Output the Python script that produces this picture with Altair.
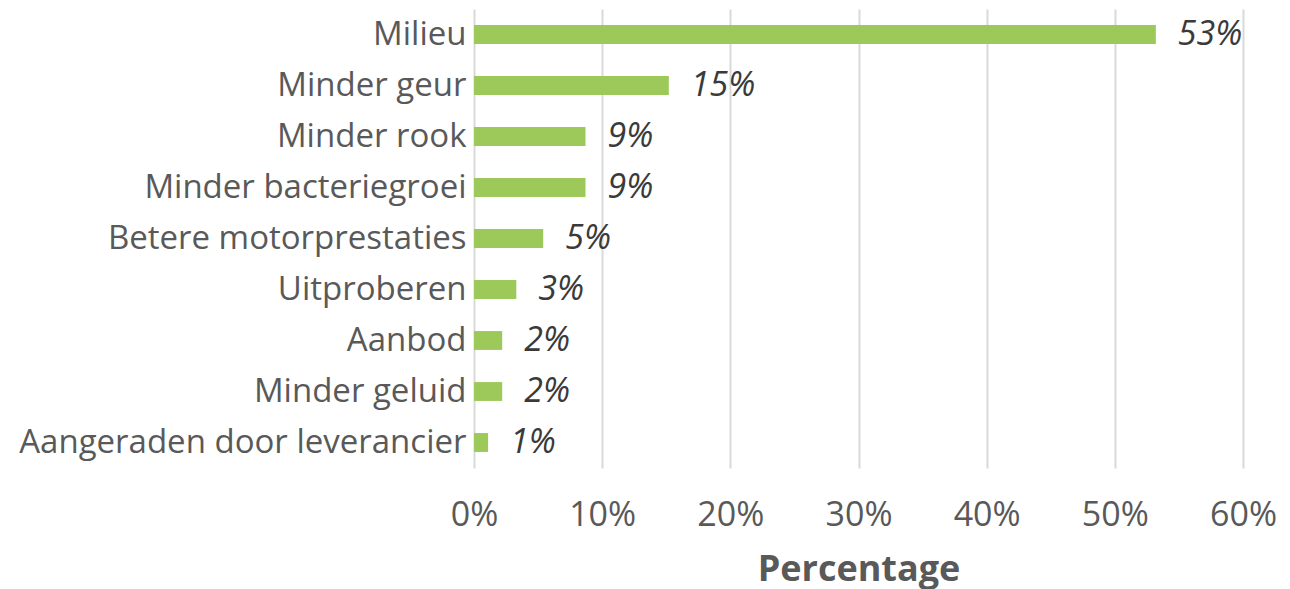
import altair as alt
import pandas as pd

categories = [
    "Milieu",
    "Minder geur",
    "Minder rook",
    "Minder bacteriegroei",
    "Betere motorprestaties",
    "Uitproberen",
    "Aanbod",
    "Minder geluid",
    "Aangeraden door leverancier",
]
values = [53.2, 15.2, 8.7, 8.7, 5.4, 3.3, 2.2, 2.2, 1.1]

df = pd.DataFrame({"cat": categories, "val": values})

FONT = "Open Sans"
GRAY = "#595959"

base = alt.Chart(df).encode(
    y=alt.Y(
        "cat:N",
        sort=categories,
        scale=alt.Scale(paddingInner=0.63, paddingOuter=0.315),
        axis=alt.Axis(
            title=None,
            labelFont=FONT,
            labelFontSize=33,
            labelColor=GRAY,
            labelPadding=8,
            ticks=False,
            domain=False,
            grid=False,
            labelLimit=700,
        ),
    ),
    x=alt.X(
        "val:Q",
        scale=alt.Scale(domain=[0, 60], nice=False),
        axis=alt.Axis(
            title="Percentage",
            values=[0, 10, 20, 30, 40, 50, 60],
            labelExpr="datum.value + '%'",
            labelFont=FONT,
            labelFontSize=34,
            labelColor=GRAY,
            labelPadding=30,
            labelFlush=False,
            labelOverlap=False,
            ticks=False,
            domain=False,
            grid=True,
            gridColor="#d9d9d9",
            gridWidth=2,
            titleFont=FONT,
            titleFontSize=36,
            titleFontWeight="bold",
            titleColor=GRAY,
            titlePadding=20,
        ),
    ),
)

bars = base.mark_bar(color="#9DC95B")

labels = base.transform_calculate(
    lbl="format(datum.val, '.0f') + '%'"
).mark_text(
    align="left",
    baseline="middle",
    dx=22,
    font=FONT,
    fontSize=34,
    fontStyle="italic",
    color="#3a3a3a",
).encode(text="lbl:N")

chart = (
    (bars + labels)
    .properties(
        width=769,
        height=459,
        autosize=alt.AutoSizeParams(type="none"),
        padding={"left": 466, "top": 1, "right": 38, "bottom": 126},
    )
    .configure_view(stroke=None)
)

chart.save("out.html", embed_options={"renderer": "svg", "actions": False})
